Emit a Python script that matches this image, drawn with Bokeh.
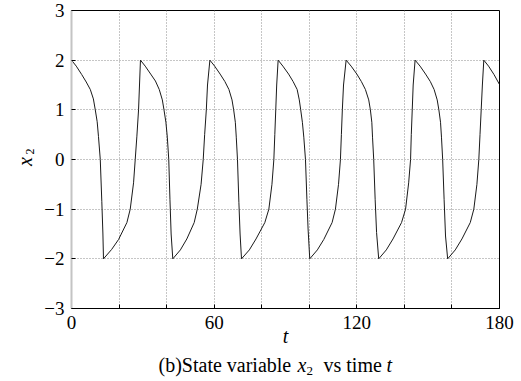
import math
from bokeh.plotting import figure
from bokeh.layouts import row, column
from bokeh.models import (Range1d, FixedTicker, LinearAxis, Label, CustomJSTickFormatter)
from bokeh.embed import file_html
from bokeh.resources import INLINE

# ---- data ----
t = [0, 2.0, 4.3, 6.2, 7.9, 9.2, 10.0, 10.8, 11.35, 12.1, 12.75, 13.2, 13.45,
     16.9, 19.8, 23.3, 24.7, 26.1, 26.8, 27.5, 28.2, 28.6, 29.0,
     31.0, 33.3, 35.3, 36.9, 38.2, 38.9, 39.7, 40.3, 40.9, 41.4, 41.9, 42.6,
     45.8, 48.5, 51.6, 52.9, 54.5, 55.4, 56.0, 56.7, 57.2, 58.2,
     60.2, 62.5, 64.5, 66.2, 67.5, 68.2, 68.9, 69.3, 69.8, 70.4, 70.9, 71.5,
     74.8, 77.6, 81.3, 83.0, 84.3, 85.1, 85.5, 85.9, 86.3, 86.9,
     88.9, 91.3, 93.2, 94.9, 95.8, 96.4, 97.1, 97.7, 98.4, 99.0, 99.5, 100.2,
     103.4, 106.1, 109.6, 111.0, 112.3, 113.1, 113.5, 113.9, 114.4, 115.5,
     117.6, 120.0, 121.9, 123.6, 125.0, 125.7, 126.3, 126.6, 127.1, 127.7, 128.3, 129.2,
     132.4, 135.2, 138.8, 140.5, 141.8, 142.6, 142.9, 143.3, 143.7, 144.5,
     146.6, 148.9, 150.9, 152.5, 153.8, 154.5, 155.2, 155.6, 156.1, 156.7, 157.3, 158.2,
     161.4, 164.2, 167.7, 169.2, 170.5, 171.3, 171.8, 172.3, 172.8, 173.4,
     175.4, 177.7, 180.0]

x2 = [2.0, 1.88, 1.71, 1.56, 1.41, 1.22, 1.0, 0.76, 0.46, 0.0, -0.85, -1.48, -2.0,
      -1.81, -1.61, -1.27, -1.0, -0.47, 0.0, 0.47, 1.0, 1.5, 2.0,
      1.88, 1.72, 1.58, 1.41, 1.2, 1.0, 0.75, 0.45, 0.0, -0.8, -1.5, -2.0,
      -1.82, -1.6, -1.27, -1.0, -0.5, 0.0, 0.5, 1.0, 1.5, 2.0,
      1.88, 1.72, 1.57, 1.41, 1.2, 1.0, 0.75, 0.45, 0.0, -0.87, -1.5, -2.0,
      -1.82, -1.6, -1.27, -1.0, -0.5, 0.0, 0.5, 1.0, 1.5, 2.0,
      1.88, 1.72, 1.57, 1.41, 1.2, 1.0, 0.75, 0.45, 0.0, -0.8, -1.4, -2.0,
      -1.82, -1.61, -1.27, -1.0, -0.5, 0.0, 0.5, 1.0, 1.5, 2.0,
      1.88, 1.72, 1.57, 1.41, 1.2, 1.0, 0.75, 0.45, 0.0, -0.8, -1.47, -2.0,
      -1.82, -1.6, -1.27, -1.0, -0.47, 0.0, 0.5, 1.0, 1.5, 2.0,
      1.88, 1.72, 1.57, 1.41, 1.2, 1.0, 0.75, 0.45, 0.0, -0.8, -1.54, -2.0,
      -1.82, -1.6, -1.27, -1.0, -0.5, 0.0, 0.5, 1.0, 1.5, 2.0,
      1.88, 1.71, 1.51]

x_labeled_ticks = [0, 60, 120, 180]
x_minor_ticks = [20, 40, 80, 100, 140, 160]
x_grid_ticks = [0, 20, 40, 60, 80, 100, 120, 140, 160, 180]
y_ticks = [-3, -2, -1, 0, 1, 2, 3]

X_MIN, X_MAX = 0, 180
Y_MIN, Y_MAX = -3, 3

# ---- layout (pixels in the 521x381 window) ----
W, H = 521, 381
FL, FR, FT, FB = 71, 499, 10, 308   # plot frame edges
YW = 40                              # strip on the left for the y title
MH = 353                             # height of the main plot (with x title)
CH = H - MH                          # strip below for the caption
SERIF = "Liberation Serif"


def strip_fig(w, h, xr, yr, bl, br, bt, bb):
    f = figure(width=w, height=h, output_backend="svg", toolbar_location=None,
               x_range=Range1d(*xr), y_range=Range1d(*yr),
               x_axis_location=None, y_axis_location=None,
               min_border_left=bl, min_border_right=br,
               min_border_top=bt, min_border_bottom=bb)
    f.outline_line_color = None
    f.xgrid.visible = False
    f.ygrid.visible = False
    f.background_fill_color = "white"
    f.border_fill_color = "white"
    return f


def lab(f, px, py, text, size="20px", style="normal", align="left", angle=0.0):
    """Place a text at window pixel (px, py); strip figures use window-pixel ranges."""
    f.add_layout(Label(x=px, y=H - py, text=text, text_font=SERIF,
                       text_font_size=size, text_font_style=style,
                       text_align=align, text_baseline="alphabetic",
                       text_color="black", angle=angle))


# ---- main plot ----
p = figure(width=W - YW, height=MH, output_backend="svg", toolbar_location=None,
           x_range=Range1d(X_MIN, X_MAX), y_range=Range1d(Y_MIN, Y_MAX),
           min_border_left=FL - YW, min_border_right=W - FR,
           min_border_top=FT, min_border_bottom=MH - FB,
           x_axis_location=None, y_axis_location=None)
p.outline_line_color = "black"
p.outline_line_width = 1
p.background_fill_color = "white"
p.border_fill_color = "white"

minus_fmt = CustomJSTickFormatter(code="return tick < 0 ? '\\u2212' + Math.abs(tick) : String(tick);")


def style_axis(ax):
    ax.major_tick_in = 4
    ax.major_tick_out = 0
    ax.minor_tick_in = 4
    ax.minor_tick_out = 0
    ax.major_tick_line_color = "black"
    ax.minor_tick_line_color = "black"
    ax.axis_line_color = "black"
    ax.axis_line_width = 1
    ax.major_label_text_font = SERIF
    ax.major_label_text_font_size = "19px"
    ax.major_label_text_color = "black"


xb = LinearAxis(ticker=FixedTicker(ticks=x_labeled_ticks, minor_ticks=x_minor_ticks))
style_axis(xb)
xb.major_label_standoff = 7
xb.axis_label = "t"
xb.axis_label_text_font = SERIF
xb.axis_label_text_font_size = "20px"
xb.axis_label_text_font_style = "italic"
xb.axis_label_text_color = "black"
xb.axis_label_standoff = -7
p.add_layout(xb, "below")

yl = LinearAxis(ticker=FixedTicker(ticks=y_ticks), formatter=minus_fmt)
style_axis(yl)
yl.axis_line_color = "#c4c4c4"
yl.axis_line_width = 2
yl.major_label_standoff = 7
p.add_layout(yl, "left")

p.xgrid.ticker = FixedTicker(ticks=x_grid_ticks)
p.ygrid.ticker = FixedTicker(ticks=y_ticks)
for g in (p.xgrid, p.ygrid):
    g.grid_line_color = "#8c8c8c"
    g.grid_line_dash = "1 2"
    g.grid_line_width = 1

p.line(t, x2, line_color="#1a1a1a", line_width=1)

# ---- y title strip: frame top/bottom match the main frame ----
yfig = strip_fig(YW, H, (0, YW), (H - FB, H - FT), 0, 0, FT, H - FB)
lab(yfig, 24, 161, "x", style="italic", align="center", angle=math.pi / 2)
lab(yfig, 29, 151, "2", size="12px", align="center", angle=math.pi / 2)

# ---- caption strip: frame left/right match the main frame ----
cap = strip_fig(W - YW, CH, (FL, FR), (0, CH), FL - YW, W - FR, 0, 0)
lab(cap, 158, 364, "(b)State variable")
lab(cap, 297, 364, "x", style="italic")
lab(cap, 306, 370, "2", size="13px")
lab(cap, 323, 364, "vs time")
lab(cap, 386, 364, "t", style="italic")

layout = row(yfig, column(p, cap, spacing=0), spacing=0)

open("out.html", "w").write(file_html(layout, INLINE))
